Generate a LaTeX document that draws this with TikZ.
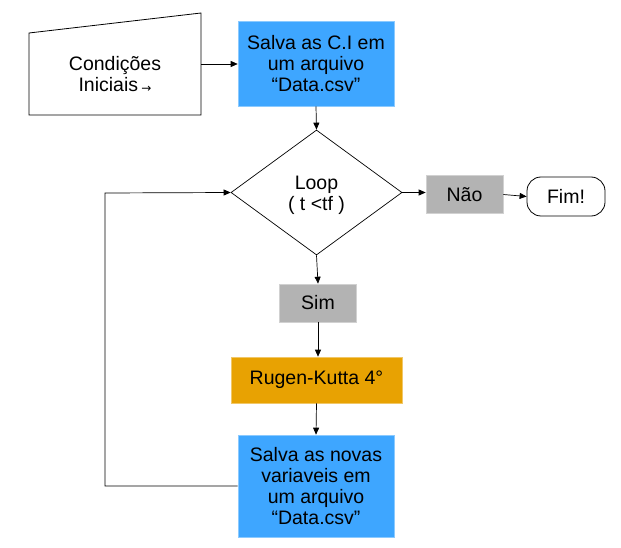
\documentclass[tikz,border=0pt]{standalone}
\usepackage{fontspec}
\setmainfont{Liberation Sans}
\newfontfamily\symfont{DejaVu Sans}
\usetikzlibrary{shapes.geometric,arrows.meta}
\definecolor{boxblue}{RGB}{62,166,255}
\definecolor{boxgray}{RGB}{179,179,179}
\definecolor{boxorange}{RGB}{232,162,2}
\begin{document}
\begin{tikzpicture}[x=1pt,y=-1pt,
  every node/.style={font=\fontsize{19.5}{21}\selectfont, align=center, inner sep=0pt},
  bluebox/.style={rectangle, fill=boxblue, draw=boxblue!60!white, line width=0.6pt, minimum width=156pt},
  graybox/.style={rectangle, fill=boxgray, draw=boxgray!60!white, line width=0.6pt, minimum width=77pt, minimum height=38pt},
  orangebox/.style={rectangle, fill=boxorange, draw=boxorange!60!white, line width=0.6pt, minimum width=171pt, minimum height=46pt},
  conn/.style={-{Triangle[length=7pt,width=6pt]}, line width=0.7pt},
  plain/.style={line width=0.7pt}]
\useasboundingbox (0,0) rectangle (621,548);
% manual input
\draw[line width=0.8pt] (29,33) -- (201,13) -- (201,115) -- (29,115) -- cycle;
\node (ci) at (115,74) {Condições\\Iniciais\,{\symfont\fontsize{12}{12}\selectfont\raisebox{-1pt}{→}}};
\coordinate (ciR) at (201,64);
% box 1
\node[bluebox, minimum height=85pt] (b1) at (316,63.5) {Salva as C.I em\\um arquivo\\“Data.csv”};
% diamond
\node[diamond, draw, line width=0.7pt, minimum width=171pt, minimum height=125pt, aspect=1.37] (loop) at (316.5,192.5) {};
\node at (316.5,195) {Loop\\( t <tf )};
% Nao / Fim
\node[graybox] (nao) at (464.5,194.5) {Não};
\node[rectangle, rounded corners=14pt, draw, line width=0.8pt, minimum width=78pt, minimum height=39pt] (fim) at (566,196.5) {Fim!};
% Sim
\node[graybox] (sim) at (318,303) {Sim};
% RK
\node[orangebox] (rk) at (316.5,380) {Rugen-Kutta 4°};
% box 2
\node[bluebox, minimum height=102pt] (b2) at (316,486) {Salva as novas\\variaveis em\\um arquivo\\“Data.csv”};
% connectors
\draw[conn] (ciR) -- (b1.west |- ciR);
\draw[conn] (b1.south) -- (loop.north);
\draw[conn] (loop.east) -- (nao.west |- loop.east);
\draw[conn] (nao.east) -- (fim.west);
\draw[conn] (loop.south) -- (sim.north);
\draw[conn] (sim.south) -- (rk.north -| sim.south);
\draw[conn] (rk.south) -- (b2.north);
\coordinate (lp1) at (105,486);
\coordinate (lp2) at (105,193);
\draw[conn] (b2.west) -- (lp1) -- (lp2) -- (loop.west);
\end{tikzpicture}
\end{document}
